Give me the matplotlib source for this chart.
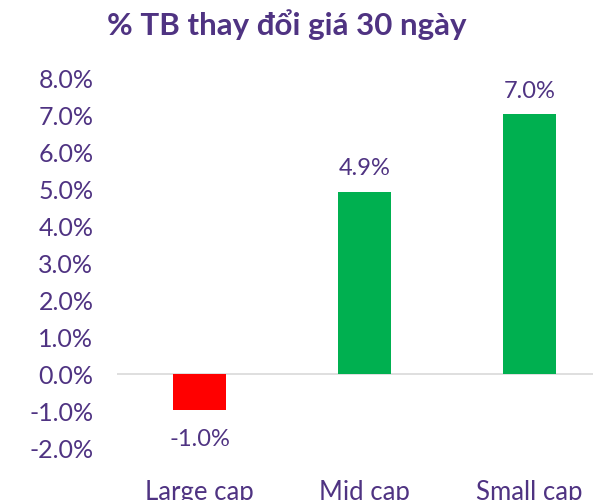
import matplotlib.pyplot as plt
from matplotlib.ticker import FuncFormatter

# du lieu
nhom = ['Large cap', 'Mid cap', 'Small cap']
thay_doi = [-0.96, 4.94, 7.04]
nhan = ['-1.0%', '4.9%', '7.0%']
mau = ['#FF0000', '#00B050', '#00B050']

tim = '#4F3382'
font = ['Lato', 'DejaVu Sans']

fig = plt.figure(figsize=(5.93, 5.0), dpi=100)
ax = fig.add_axes([117 / 593, 0.104, 495 / 593, 0.738])

x = range(len(nhom))
ax.bar(x, thay_doi, width=0.32, color=mau)
ax.axhline(0, color='#D9D9D9', lw=1.2, zorder=0)

for i, v in enumerate(thay_doi):
    if v >= 0:
        ax.annotate(nhan[i], (i, v), xytext=(0, 9), textcoords='offset points',
                    ha='center', va='bottom', fontsize=17, color=tim, family=font)
    else:
        ax.annotate(nhan[i], (i, v), xytext=(0, -14), textcoords='offset points',
                    ha='center', va='top', fontsize=17, color=tim, family=font)

ax.set_ylim(-2, 8)
ax.set_xlim(-0.5, 2.5)
ax.set_yticks(range(-2, 9))
ax.yaxis.set_major_formatter(FuncFormatter(lambda v, p: f'{v:.1f}%'))
ax.set_xticks(list(x))
ax.set_xticklabels(nhom)
for lb in ax.get_yticklabels():
    lb.set_family(font)
    lb.set_fontsize(18)
    lb.set_color(tim)
for lb in ax.get_xticklabels():
    lb.set_family(font)
    lb.set_fontsize(18.5)
    lb.set_color(tim)
ax.tick_params(length=0)
ax.tick_params(axis='y', pad=17)
ax.tick_params(axis='x', pad=23)
for s in ax.spines.values():
    s.set_visible(False)

fig.text(0.484, 0.95, '% TB thay đổi giá 30 ngày', ha='center', va='center',
         fontsize=22.5, fontweight='bold', color=tim, family=font)

fig.savefig('out.png', dpi=100)
